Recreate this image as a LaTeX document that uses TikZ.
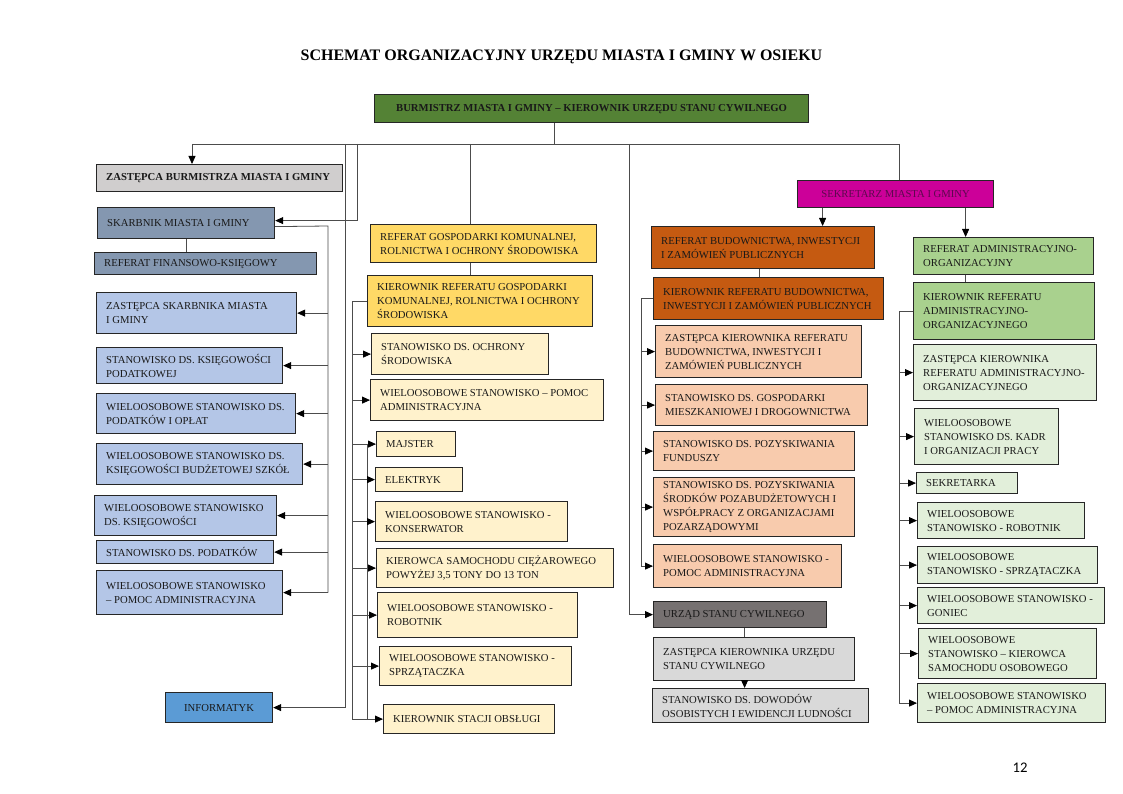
\documentclass[tikz,border=0pt]{standalone}
\usepackage{fontspec}
\setmainfont{Liberation Serif}
\newfontfamily\pgnumfont{Carlito}
\usetikzlibrary{arrows.meta}
\definecolor{cBurm}{HTML}{548235}
\definecolor{cGray}{HTML}{D0CECE}
\definecolor{cSk}{HTML}{8497B0}
\definecolor{cLb}{HTML}{B4C6E7}
\definecolor{cInf}{HTML}{5B9BD5}
\definecolor{cYel}{HTML}{FFD966}
\definecolor{cLy}{HTML}{FFF2CC}
\definecolor{cSek}{HTML}{CC0099}
\definecolor{cSekT}{HTML}{5C0A4E}
\definecolor{cOr}{HTML}{C55A11}
\definecolor{cLo}{HTML}{F8CBAD}
\definecolor{cDg}{HTML}{767171}
\definecolor{cLg}{HTML}{D9D9D9}
\definecolor{cGr}{HTML}{A9D18E}
\definecolor{cLgr}{HTML}{E2EFDA}
\tikzset{
  box/.style={draw=black!85, line width=1.2pt, inner sep=0pt, rectangle},
  txt/.style={inner sep=0pt, align=left, font=\fontsize{10.67}{14}\selectfont, text=black!90},
  bold/.style={font=\fontsize{10.67}{14}\selectfont\bfseries},
  sektxt/.style={text=cSekT},
  ln/.style={draw=black!70, line width=0.8pt},
  arr/.style={ln, -{Triangle[length=8pt,width=7pt,color=black]}},
}
\newcommand\obox[8]{%
  \pgfmathsetmacro\bw{#4-#2}\pgfmathsetmacro\bh{#5-#3}%
  \node[box,fill=#6,anchor=north west,minimum width=\bw pt,minimum height=\bh pt] (#1) at (#2,#3) {};%
  \node[txt,#7,anchor=west] (#1-t) at ([xshift=10pt]#1.west) {#8};%
}
\newcommand\cbox[8]{%
  \pgfmathsetmacro\bw{#4-#2}\pgfmathsetmacro\bh{#5-#3}%
  \node[box,fill=#6,anchor=north west,minimum width=\bw pt,minimum height=\bh pt] (#1) at (#2,#3) {};%
  \node[txt,#7,anchor=center] (#1-t) at (#1.center) {#8};%
}
\begin{document}
\begin{tikzpicture}[x=1pt,y=-1pt]
\fill[white] (0,0) rectangle (1123,794);
\useasboundingbox (0,0) rectangle (1123,794);

\node[font=\fontsize{16}{19}\selectfont\bfseries, inner sep=0pt] (title) at (561.5,57) {SCHEMAT ORGANIZACYJNY URZĘDU MIASTA I GMINY W OSIEKU};
\node[font=\pgnumfont\fontsize{14.7}{17}\selectfont, inner sep=0pt] (pg) at (1020,768) {12};

% top
\cbox{burm}{374}{94}{808}{122}{cBurm}{bold}{BURMISTRZ MIASTA I GMINY – KIEROWNIK URZĘDU STANU CYWILNEGO}
\obox{zbur}{96}{164}{342}{191}{cGray}{bold}{ZASTĘPCA BURMISTRZA MIASTA I GMINY}

% left column
\obox{skarb}{97}{207}{274}{238}{cSk}{}{SKARBNIK MIASTA I GMINY}
\obox{reff}{94}{252}{316}{274}{cSk}{}{REFERAT FINANSOWO-KSIĘGOWY}
\obox{zs}{96}{292}{296}{333}{cLb}{}{ZASTĘPCA SKARBNIKA MIASTA\\I GMINY}
\obox{skp}{96}{347}{282}{383}{cLb}{}{STANOWISKO DS. KSIĘGOWOŚCI\\PODATKOWEJ}
\obox{wpo}{96}{393}{295}{433}{cLb}{}{WIELOOSOBOWE STANOWISKO DS.\\PODATKÓW I OPŁAT}
\obox{wks}{96}{443}{302}{484}{cLb}{}{WIELOOSOBOWE STANOWISKO DS.\\KSIĘGOWOŚCI BUDŻETOWEJ SZKÓŁ}
\obox{wk}{94}{495}{276}{535}{cLb}{}{WIELOOSOBOWE STANOWISKO\\DS. KSIĘGOWOŚCI}
\obox{sp}{96}{540}{273}{563}{cLb}{}{STANOWISKO DS. PODATKÓW}
\obox{wpa}{96}{570}{282}{614}{cLb}{}{WIELOOSOBOWE STANOWISKO\\– POMOC ADMINISTRACYJNA}
\cbox{inf}{165}{692}{272}{722}{cInf}{}{INFORMATYK}

% middle column
\obox{refg}{370}{224}{596}{262}{cYel}{}{REFERAT GOSPODARKI KOMUNALNEJ,\\ROLNICTWA I OCHRONY ŚRODOWISKA}
\obox{kg}{367}{275}{592}{326}{cYel}{}{KIEROWNIK REFERATU GOSPODARKI\\KOMUNALNEJ, ROLNICTWA I OCHRONY\\ŚRODOWISKA}
\obox{so}{371}{333}{548}{374}{cLy}{}{STANOWISKO DS. OCHRONY\\ŚRODOWISKA}
\obox{wpg}{370}{379}{603}{420}{cLy}{}{WIELOOSOBOWE STANOWISKO – POMOC\\ADMINISTRACYJNA}
\obox{maj}{376}{431}{455}{456}{cLy}{}{MAJSTER}
\obox{ele}{375}{467}{462}{491}{cLy}{}{ELEKTRYK}
\obox{kon}{375}{501}{567}{541}{cLy}{}{WIELOOSOBOWE STANOWISKO -\\KONSERWATOR}
\obox{kc}{376}{548}{613}{587}{cLy}{}{KIEROWCA SAMOCHODU CIĘŻAROWEGO\\POWYŻEJ 3,5 TONY DO 13 TON}
\obox{rob}{377}{592}{577}{637}{cLy}{}{WIELOOSOBOWE STANOWISKO -\\ROBOTNIK}
\obox{spr}{379}{646}{571}{685}{cLy}{}{WIELOOSOBOWE STANOWISKO -\\SPRZĄTACZKA}
\obox{ks}{383}{704}{554}{733}{cLy}{}{KIEROWNIK STACJI OBSŁUGI}

% sekretarz + budownictwo
\cbox{sek}{797}{180}{993}{207}{cSek}{sektxt}{SEKRETARZ MIASTA I GMINY}
\obox{refb}{651}{226}{874}{268}{cOr}{}{REFERAT BUDOWNICTWA, INWESTYCJI\\I ZAMÓWIEŃ PUBLICZNYCH}
\obox{kb}{653}{277}{883}{319}{cOr}{}{KIEROWNIK REFERATU BUDOWNICTWA,\\INWESTYCJI I ZAMÓWIEŃ PUBLICZNYCH}
\obox{zb}{655}{325}{861}{377}{cLo}{}{ZASTĘPCA KIEROWNIKA REFERATU\\BUDOWNICTWA, INWESTYCJI I\\ZAMÓWIEŃ PUBLICZNYCH}
\obox{sg}{655}{384}{867}{425}{cLo}{}{STANOWISKO DS. GOSPODARKI\\MIESZKANIOWEJ I DROGOWNICTWA}
\obox{pf}{653}{431}{854}{470}{cLo}{}{STANOWISKO DS. POZYSKIWANIA\\FUNDUSZY}
\obox{ps}{653}{477}{854}{536}{cLo}{}{STANOWISKO DS. POZYSKIWANIA\\ŚRODKÓW POZABUDŻETOWYCH I\\WSPÓŁPRACY Z ORGANIZACJAMI\\POZARZĄDOWYMI}
\obox{pab}{653}{544}{841}{587}{cLo}{}{WIELOOSOBOWE STANOWISKO -\\POMOC ADMINISTRACYJNA}
\obox{usc}{653}{601}{826}{627}{cDg}{}{URZĄD STANU CYWILNEGO}
\obox{zusc}{653}{637}{854}{680}{cLg}{}{ZASTĘPCA KIEROWNIKA URZĘDU\\STANU CYWILNEGO}
\obox{sdo}{652}{688}{868}{722}{cLg}{}{STANOWISKO DS. DOWODÓW\\OSOBISTYCH I EWIDENCJI LUDNOŚCI}

% administracyjno-organizacyjny
\obox{refa}{913}{237}{1093}{274}{cGr}{}{REFERAT ADMINISTRACYJNO-\\ORGANIZACYJNY}
\obox{ka}{913}{282}{1094}{339}{cGr}{}{KIEROWNIK REFERATU\\ADMINISTRACYJNO-\\ORGANIZACYJNEGO}
\obox{za}{913}{344}{1096}{400}{cLgr}{}{ZASTĘPCA KIEROWNIKA\\REFERATU ADMINISTRACYJNO-\\ORGANIZACYJNEGO}
\obox{wkd}{914}{408}{1058}{464}{cLgr}{}{WIELOOSOBOWE\\STANOWISKO DS. KADR\\I ORGANIZACJI PRACY}
\obox{sekr}{916}{472}{1017}{493}{cLgr}{}{SEKRETARKA}
\obox{wr}{917}{502}{1084}{538}{cLgr}{}{WIELOOSOBOWE\\STANOWISKO - ROBOTNIK}
\obox{wsp}{917}{546}{1097}{583}{cLgr}{}{WIELOOSOBOWE\\STANOWISKO - SPRZĄTACZKA}
\obox{wg}{917}{587}{1104}{623}{cLgr}{}{WIELOOSOBOWE STANOWISKO -\\GONIEC}
\obox{wkso}{918}{628}{1096}{678}{cLgr}{}{WIELOOSOBOWE\\STANOWISKO – KIEROWCA\\SAMOCHODU OSOBOWEGO}
\obox{wpr}{917}{683}{1105}{722}{cLgr}{}{WIELOOSOBOWE STANOWISKO\\– POMOC ADMINISTRACYJNA}

% ---- connectors ----
\coordinate (bs) at ([xshift=-37pt]burm.south);
\coordinate (top) at (554,144);
\draw[ln] (bs) -- (bs |- top);
\coordinate (tl) at (192,144);
\coordinate (tr) at (899,144);
\draw[ln] (tl) -- (tr);
\draw[arr] (tl) -- (tl |- zbur.north);
\draw[ln] (tr) -- (tr |- sek.north);
\coordinate (v1) at (345,144);
\draw[arr] (v1) |- (inf.east);
\coordinate (v2) at (357,144);
\draw[arr] (v2) |- ([yshift=2.5pt]skarb.east);
\coordinate (v3) at (470,144);
\draw[ln] (v3) -- (v3 |- refg.north);
\coordinate (v4) at (629,144);
\draw[arr] (v4) |- (usc.west);

% skarbnik
\draw[ln] (skarb.south) -- (skarb.south |- reff.north);
\coordinate (sx) at (328,226);
\draw[ln] ([yshift=-3.5pt]skarb.east) -- (sx) -- (sx |- wpa.east);
\foreach \b in {zs,skp,wpo,wks,wk,sp,wpa}{\draw[arr] (sx |- \b.east) -- (\b.east);}

% gospodarka
\draw[ln] (v3 |- refg.south) -- (v3 |- kg.north);
\coordinate (gx) at (352,300);
\coordinate (gi) at (367,441);
\draw[ln] (kg.west) -- (gx |- kg.west) -- (gx |- ks.west);
\draw[ln] (gi |- maj.west) -- (gi |- ks.west);
\foreach \b in {so,wpg,maj,ele,kon,kc,rob,spr,ks}{\draw[arr] (gx |- \b.west) -- (\b.west);}

% sekretarz
\coordinate (s1) at ([xshift=-73pt]sek.south);
\coordinate (s2) at ([xshift=70pt]sek.south);
\draw[arr] (s1) -- (s1 |- refb.north);
\draw[arr] (s2) -- (s2 |- refa.north);

% budownictwo
\coordinate (bm) at ([xshift=-3.5pt]refb.south);
\draw[ln] (bm) -- (bm |- kb.north);
\coordinate (bx) at (641,298);
\draw[ln] (kb.west) -- (bx |- kb.west) -- (bx |- pab.west);
\foreach \b in {zb,sg,pf,ps,pab}{\draw[arr] (bx |- \b.west) -- (\b.west);}

% USC
\coordinate (um) at ([xshift=4.5pt]usc.south);
\draw[ln] (um) -- (um |- zusc.north);
\draw[arr] (um |- zusc.south) -- (um |- sdo.north);

% administracyjno-organizacyjny
\draw[ln] (s2 |- refa.south) -- (s2 |- ka.north);
\coordinate (ax) at (899,310);
\draw[ln] (ka.west) -- (ax |- ka.west) -- (ax |- wpr.west);
\foreach \b in {za,wkd,sekr,wr,wsp,wg,wkso,wpr}{\draw[arr] (ax |- \b.west) -- (\b.west);}
\end{tikzpicture}
\end{document}
